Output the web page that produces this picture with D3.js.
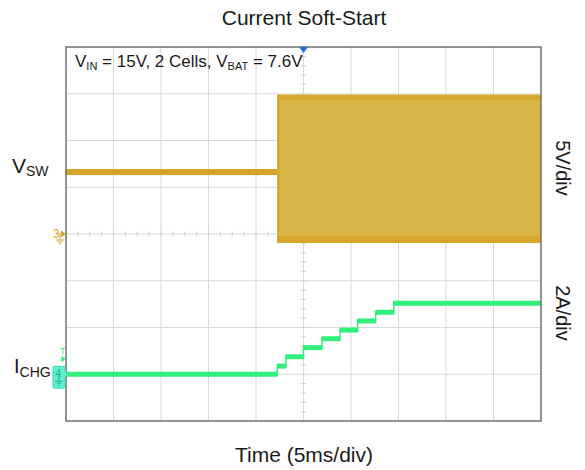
<!DOCTYPE html>
<html>
<head>
<meta charset="utf-8">
<script src="https://cdn.jsdelivr.net/npm/d3@7/dist/d3.min.js"></script>
<style>
  html, body { margin: 0; padding: 0; background: #ffffff; }
  svg { display: block; }
  text { font-family: Arial, "Liberation Sans", Helvetica, sans-serif; }
</style>
</head>
<body>
<svg id="chart" width="585" height="470"></svg>
<script>
// ---------------- data ----------------
const chartTitle = "Current Soft-Start";
const xAxisLabel = "Time (5ms/div)";
const timeDomainMs = [-25, 25];          // 10 divisions at 5 ms/div
const divDomain = [-4, 4];               // 8 vertical divisions

// Channel 3: VSW (5 V/div, ground at centre)
const vswVoltsPerDiv = 5;
const vswGroundDiv = 0;
const vswPhase   = ["idle", "switching"];
const vswStartMs = [-25, -2.75];
const vswEndMs   = [-2.75, 25];
const vswMinV    = [6.3, -0.95];
const vswMaxV    = [6.95, 14.9];

// Channel 4: ICHG (2 A/div, ground 3 div below centre)
const ichgAmpsPerDiv = 2;
const ichgGroundDiv = -3;
const ichgStepStartMs = [-25, -2.75, -1.85, 0.0, 1.95, 3.85, 5.7, 7.6, 9.5];
const ichgStepA       = [0.0, 0.35, 0.75, 1.14, 1.52, 1.89, 2.28, 2.65, 3.04];

// ---------------- drawing ----------------
const svg = d3.select("#chart");
const plot = { left: 66, right: 541, top: 47, bottom: 421 };

const x = d3.scaleLinear().domain(timeDomainMs).range([plot.left, plot.right]);
const yDiv = d3.scaleLinear().domain(divDomain).range([plot.bottom, plot.top]);
const yV = v => yDiv(v / vswVoltsPerDiv + vswGroundDiv);
const yA = a => yDiv(a / ichgAmpsPerDiv + ichgGroundDiv);

const gridColor = "#d8d8d8";
const g = svg.append("g");

// grid lines
const xGridMs = d3.range(timeDomainMs[0] + 5, timeDomainMs[1], 5);
const yGridDiv = d3.range(divDomain[0] + 1, divDomain[1]);
g.selectAll("line.vg").data(xGridMs).join("line")
  .attr("x1", d => x(d)).attr("x2", d => x(d))
  .attr("y1", plot.top).attr("y2", plot.bottom)
  .attr("stroke", gridColor).attr("stroke-width", 1);
g.selectAll("line.hg").data(yGridDiv).join("line")
  .attr("x1", plot.left).attr("x2", plot.right)
  .attr("y1", d => yDiv(d)).attr("y2", d => yDiv(d))
  .attr("stroke", gridColor).attr("stroke-width", 1);

// minor ticks on centre lines
const xMinor = d3.range(timeDomainMs[0], timeDomainMs[1] + 0.001, 1.25);
g.selectAll("line.xm").data(xMinor).join("line")
  .attr("x1", d => x(d)).attr("x2", d => x(d))
  .attr("y1", yDiv(0) - 2.5).attr("y2", yDiv(0) + 2.5)
  .attr("stroke", "#cfcfcf").attr("stroke-width", 1);
const yMinor = d3.range(divDomain[0], divDomain[1] + 0.001, 0.2);
g.selectAll("line.ym").data(yMinor).join("line")
  .attr("x1", x(0) - 2.5).attr("x2", x(0) + 2.5)
  .attr("y1", d => yDiv(d)).attr("y2", d => yDiv(d))
  .attr("stroke", "#cfcfcf").attr("stroke-width", 1);

// VSW trace
const gold = "#d4a52a";
const goldFill = "#d9b447";
const goldDark = "#d3a322";
vswPhase.forEach((p, i) => {
  const x0 = x(vswStartMs[i]), x1 = x(vswEndMs[i]);
  const yTop = yV(vswMaxV[i]), yBot = yV(vswMinV[i]);
  if (p === "idle") {
    g.append("rect").attr("x", x0).attr("y", yTop)
      .attr("width", x1 - x0).attr("height", yBot - yTop)
      .attr("fill", gold);
  } else {
    g.append("rect").attr("x", x0).attr("y", yTop)
      .attr("width", x1 - x0).attr("height", yBot - yTop)
      .attr("fill", goldFill);
    g.append("rect").attr("x", x0).attr("y", yTop)
      .attr("width", x1 - x0).attr("height", 5)
      .attr("fill", goldDark).attr("opacity", 0.7);
    g.append("rect").attr("x", x0).attr("y", yBot - 7)
      .attr("width", x1 - x0).attr("height", 7)
      .attr("fill", goldDark).attr("opacity", 0.8);
    g.append("rect").attr("x", x0).attr("y", yTop)
      .attr("width", 2).attr("height", yBot - yTop)
      .attr("fill", goldDark);
  }
});

// ICHG trace: flat segments as thick bands, risers as thin lines
const green = "#2ef07a";
const ichgData = ichgStepStartMs.map((t, i) => ({
  t0: t,
  t1: i + 1 < ichgStepStartMs.length ? ichgStepStartMs[i + 1] : timeDomainMs[1],
  a: ichgStepA[i]
}));
g.selectAll("line.iseg").data(ichgData).join("line")
  .attr("x1", d => x(d.t0)).attr("x2", d => x(d.t1))
  .attr("y1", d => yA(d.a)).attr("y2", d => yA(d.a))
  .attr("stroke", green).attr("stroke-width", 5);
g.selectAll("line.irise").data(ichgData.slice(1)).join("line")
  .attr("x1", d => x(d.t0)).attr("x2", d => x(d.t0))
  .attr("y1", (d, i) => yA(ichgData[i].a) + 2).attr("y2", d => yA(d.a) - 2)
  .attr("stroke", green).attr("stroke-width", 1.5);

// frame
g.append("rect").attr("x", plot.left).attr("y", plot.top)
  .attr("width", plot.right - plot.left).attr("height", plot.bottom - plot.top)
  .attr("fill", "none").attr("stroke", "#707070").attr("stroke-width", 1.5);

// trigger position marker (blue)
g.append("path")
  .attr("d", `M${x(0) - 4.5},${plot.top} L${x(0) + 4.5},${plot.top} L${x(0)},${plot.top + 6} Z`)
  .attr("fill", "#1a6fe8");

// channel 3 ground marker
const y3 = yDiv(vswGroundDiv);
g.append("text").attr("x", 53).attr("y", y3 + 4).attr("font-size", 12)
  .attr("fill", gold).text("3");
g.append("path").attr("d", `M${plot.left - 5},${y3 - 3.5} L${plot.left},${y3} L${plot.left - 5},${y3 + 3.5} Z`)
  .attr("fill", gold);
g.append("path").attr("d", `M60,${y3 - 1} V${y3 + 6} M56,${y3 + 6} H64 M57.5,${y3 + 8} H62.5 M59,${y3 + 10} H61`)
  .attr("stroke", gold).attr("stroke-width", 1).attr("fill", "none");

// channel 4 ground marker
const y4 = yDiv(ichgGroundDiv);
const cyan = "#5cf0d2";
g.append("rect").attr("x", 53).attr("y", y4 - 8).attr("width", 12).attr("height", 22)
  .attr("rx", 1.5).attr("fill", cyan).attr("stroke", "#3fd9b8").attr("stroke-width", 1);
g.append("text").attr("x", 55.5).attr("y", y4 + 3).attr("font-size", 10)
  .attr("fill", "#2aa98a").text("4");
g.append("path").attr("d", `M${plot.left - 2},${y4 - 3.5} L${plot.left + 2},${y4} L${plot.left - 2},${y4 + 3.5} Z`)
  .attr("fill", cyan);
g.append("path").attr("d", `M59,${y4 + 2} V${y4 + 7} M55.5,${y4 + 7} H62.5 M57,${y4 + 9} H61 M58.2,${y4 + 11} H59.8`)
  .attr("stroke", "#2aa98a").attr("stroke-width", 1).attr("fill", "none");

// trigger level marker "T"
const yT = yA(0.65);
g.append("text").attr("x", 60).attr("y", yT - 5).attr("font-size", 9)
  .attr("fill", green).text("T");
g.append("path").attr("d", `M61.5,${yT - 3.5} L65.5,${yT} L61.5,${yT + 3.5} Z`)
  .attr("fill", green);

// text labels
svg.append("text").attr("x", 304).attr("y", 25).attr("text-anchor", "middle")
  .attr("font-size", 21).attr("fill", "#1a1a1a").text(chartTitle);

svg.append("text").attr("x", 304).attr("y", 462).attr("text-anchor", "middle")
  .attr("font-size", 21).attr("fill", "#1a1a1a").text(xAxisLabel);

const cond = svg.append("text").attr("x", 75).attr("y", 67).attr("font-size", 17).attr("fill", "#1a1a1a");
cond.append("tspan").text("V");
cond.append("tspan").attr("font-size", 11).attr("dy", 3).text("IN");
cond.append("tspan").attr("dy", -3).text(" = 15V, 2 Cells, V");
cond.append("tspan").attr("font-size", 11).attr("dy", 3).text("BAT");
cond.append("tspan").attr("dy", -3).text(" = 7.6V");

const vsw = svg.append("text").attr("x", 12).attr("y", 173).attr("font-size", 21).attr("fill", "#1a1a1a");
vsw.append("tspan").text("V");
vsw.append("tspan").attr("font-size", 14).attr("dy", 3).text("SW");

const ichg = svg.append("text").attr("x", 14).attr("y", 373).attr("font-size", 20).attr("fill", "#1a1a1a");
ichg.append("tspan").text("I");
ichg.append("tspan").attr("font-size", 14).attr("dy", 4).text("CHG");

svg.append("text").attr("transform", "translate(556,168) rotate(90)")
  .attr("text-anchor", "middle").attr("font-size", 20).attr("fill", "#1a1a1a").text("5V/div");
svg.append("text").attr("transform", "translate(556,313) rotate(90)")
  .attr("text-anchor", "middle").attr("font-size", 20).attr("fill", "#1a1a1a").text("2A/div");
</script>
</body>
</html>
